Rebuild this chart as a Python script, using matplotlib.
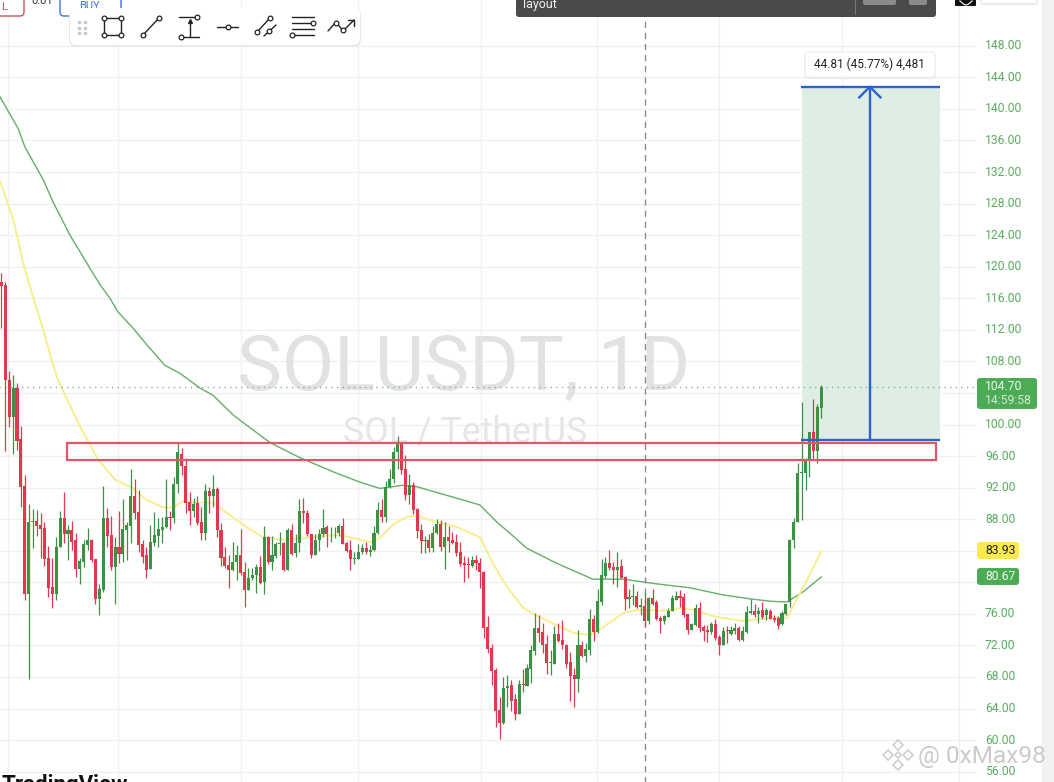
import matplotlib
matplotlib.use("Agg")
import matplotlib.pyplot as plt
from matplotlib.patches import FancyBboxPatch, Rectangle, Polygon

plt.rcParams["font.family"] = ["Roboto", "DejaVu Sans"]

opens = [118.0,117.7,105.7,100.9,104.6,98.1,92.2,78.5,87.6,87.8,
87.2,86.9,83.1,79.4,78.5,84.5,88.1,86.1,86.6,85.3,
81.7,82.6,84.7,85.4,83.0,77.9,79.0,88.1,86.0,81.9,
84.5,83.6,86.6,87.1,91.0,88.9,84.9,83.4,81.7,85.0,
85.9,86.6,87.0,88.3,88.1,92.4,96.2,94.8,90.2,89.0,
90.0,87.6,86.3,91.6,90.9,91.8,86.6,83.2,82.2,81.5,
82.6,83.4,81.3,79.0,80.5,80.9,82.0,80.0,85.7,82.6,
83.3,84.9,85.0,81.5,86.6,83.7,85.0,89.1,88.8,86.1,
83.4,85.4,86.1,87.0,86.2,86.2,86.2,87.1,85.0,84.1,
83.0,83.0,83.8,84.3,83.9,84.1,86.2,89.2,88.3,92.1,
93.1,96.5,97.5,94.3,91.1,92.3,89.3,86.6,85.2,85.4,
84.3,86.2,87.4,84.5,85.8,85.3,85.1,83.8,82.4,82.3,
82.1,82.8,82.5,81.3,74.3,71.7,68.9,63.8,62.2,66.6,
67.0,65.2,63.3,67.1,66.8,69.0,71.3,74.2,73.7,72.2,
69.8,69.7,73.4,72.7,72.1,69.9,68.2,67.8,72.0,70.6,
71.4,75.3,73.7,77.5,80.8,82.4,81.9,81.5,82.1,80.7,
77.9,78.1,78.3,76.9,77.0,75.1,78.0,77.5,75.5,75.1,
75.6,76.4,77.8,78.3,78.1,76.0,73.9,74.6,76.8,74.3,
73.9,73.7,74.7,73.1,72.1,73.9,73.4,73.8,74.2,72.7,
73.7,76.1,76.3,76.0,76.5,75.8,76.4,75.5,75.5,74.7,
76.0,77.5,85.3,87.7,93.8,93.9,95.6,99.1,96.7,102.1]

closes = [117.6,105.6,100.9,104.6,97.9,92.1,78.5,87.6,87.8,87.1,
86.8,83.0,79.3,78.5,84.5,88.1,86.1,86.6,85.1,81.7,
82.7,84.9,85.4,82.8,77.9,79.1,88.1,85.9,81.9,84.5,
83.6,86.7,87.2,91.0,88.8,84.7,83.2,81.6,85.1,86.0,
86.7,87.0,88.3,88.1,92.5,96.5,94.7,90.1,89.0,89.9,
87.5,86.3,91.6,90.9,91.8,86.6,83.1,82.1,81.5,82.6,
83.4,81.2,79.0,80.5,80.9,82.0,79.9,85.7,82.6,83.4,
84.9,85.0,81.5,86.6,83.6,85.0,89.1,88.8,86.1,83.4,
85.4,86.1,86.9,86.1,86.3,86.3,87.1,84.9,84.0,83.0,
83.1,83.9,84.3,83.9,84.1,86.3,89.2,88.3,92.1,93.1,
96.5,97.5,94.2,91.1,92.3,89.2,86.5,85.2,85.4,84.3,
86.3,87.4,84.5,85.8,85.2,85.0,83.7,82.3,82.2,82.2,
82.8,82.4,81.3,74.2,71.6,68.8,63.7,62.2,66.6,66.9,
64.9,63.3,67.1,67.0,69.1,71.4,74.2,73.6,72.1,69.8,
69.9,73.4,72.5,72.0,69.7,68.1,67.8,72.0,70.6,71.5,
75.3,73.7,77.6,80.9,82.4,81.8,81.5,82.0,80.6,77.9,
78.1,78.3,76.9,77.1,75.1,78.0,77.3,75.3,75.1,75.7,
76.4,78.0,78.3,78.0,75.8,73.9,74.7,76.8,74.2,73.8,
73.7,74.7,72.9,72.0,73.8,73.8,73.9,74.2,72.7,73.8,
76.2,76.4,75.9,76.4,75.6,76.5,75.4,75.2,74.4,76.1,
77.2,85.4,87.7,93.8,94.0,95.5,99.1,96.7,102.2,104.7]

highs = [119.2,118.0,106.8,106.3,105.2,99.8,93.6,89.9,89.3,89.2,
88.8,87.7,84.6,83.1,85.7,89.1,91.4,87.2,87.8,86.2,
83.1,85.4,86.9,85.5,83.0,79.8,92.2,89.4,88.4,85.7,
89.1,90.5,87.6,94.3,93.1,91.7,85.3,84.5,87.3,88.9,
88.1,88.3,93.1,89.0,93.4,97.7,97.0,95.7,91.5,90.7,
90.9,89.6,92.4,92.1,93.6,92.1,87.5,84.5,83.4,85.1,
84.7,86.7,82.6,81.8,81.8,82.3,83.3,87.1,85.9,85.9,
85.1,86.4,85.1,86.9,87.4,86.1,90.6,90.7,89.2,86.1,
86.1,86.8,89.3,87.2,87.0,87.0,87.4,88.2,85.1,85.4,
83.9,84.9,84.9,85.1,84.7,87.1,90.2,90.5,92.9,94.3,
97.1,98.5,97.6,96.1,93.7,92.7,89.4,87.4,85.9,86.1,
87.1,88.0,87.9,87.6,87.1,86.4,86.1,85.1,83.3,83.2,
83.3,83.4,83.1,81.4,75.7,72.2,69.2,65.4,68.0,68.3,
67.6,65.9,67.6,69.0,69.7,72.0,76.1,75.8,74.8,73.3,
71.4,74.4,74.8,75.2,72.2,71.2,69.1,74.0,72.5,72.3,
76.6,75.8,79.1,82.9,83.2,84.1,82.6,83.8,82.9,80.8,
79.1,79.8,78.9,78.0,78.7,78.2,79.1,77.7,75.7,75.8,
76.7,78.4,78.9,79.0,78.7,76.0,74.8,77.2,77.5,74.6,
74.6,75.0,75.4,73.3,74.3,74.4,74.4,74.9,74.4,74.4,
77.0,77.9,77.3,76.9,77.5,76.8,76.6,75.8,75.7,76.3,
77.3,85.5,88.1,95.1,102.9,95.7,99.1,103.2,102.6,105.0]

lows = [112.2,96.6,99.7,96.2,96.8,89.5,77.8,67.7,84.3,85.9,
83.1,82.1,78.2,76.8,77.7,84.5,85.0,82.8,84.1,80.7,
79.8,82.0,84.1,82.6,77.3,75.9,78.8,84.5,81.6,77.3,
82.4,82.6,82.8,85.0,88.0,83.9,82.5,80.5,81.7,84.6,
84.5,85.0,86.9,86.6,87.5,91.3,93.6,88.8,87.2,88.3,
87.3,85.3,85.3,88.8,89.6,85.7,82.1,81.8,79.3,81.4,
80.3,80.9,76.9,79.0,80.3,78.7,79.8,78.5,82.3,81.6,
83.1,83.4,81.4,81.5,83.5,83.2,83.8,87.5,85.9,83.1,
83.4,84.0,85.7,84.5,85.1,85.6,85.9,84.8,83.9,81.5,
82.3,83.0,83.6,83.6,83.3,84.0,86.1,87.7,87.7,92.0,
92.6,94.4,93.7,90.4,89.9,88.7,85.6,83.7,83.7,83.9,
83.8,86.1,84.0,81.7,83.9,84.8,83.3,82.1,80.1,80.5,
81.9,81.5,79.3,73.0,71.0,67.0,61.6,60.2,62.1,64.2,
63.7,62.5,63.3,66.1,66.8,67.2,70.8,72.4,71.1,68.4,
68.2,69.6,72.4,71.6,69.1,64.9,64.2,66.1,70.5,69.9,
70.8,72.5,73.6,77.1,80.5,81.5,79.8,79.4,80.5,76.5,
76.8,77.1,76.8,75.8,74.4,74.7,77.1,75.2,73.6,74.7,
75.6,76.3,77.7,76.9,75.6,73.5,73.9,74.5,73.7,72.6,
72.4,73.5,72.7,70.8,72.0,72.3,73.3,73.5,72.5,72.6,
73.6,76.0,75.6,74.9,75.4,75.2,75.3,75.0,74.1,74.6,
75.8,76.9,84.3,87.7,87.9,91.7,93.4,95.5,95.1,100.8]

fast_x = [-0.3,3.1,5.6,8.2,10.7,12.8,14.5,19.6,24.6,29.0,33.3,37.1,41.2,43.8,46.3,48.9,54.0,57.5,61.6,66.7,71.8,78.7,85.6,88.9,94.0,96.5,99.8,103.4,106.0,111.1,116.2,122.0,125.3,128.9,133.0,136.0,140.6,145.7,150.1,153.4,158.5,162.0,168.7,173.0,176.3,182.4,189.1,196.0,200.3,205.4,209]
fast_ma = [130.8,125.9,120.4,116.0,112.0,108.2,105.6,100.2,95.6,93.0,92.0,90.4,89.5,89.5,90.3,90.1,90.1,88.8,87.3,85.7,85.4,85.7,86.0,85.7,85.1,85.6,87.3,88.3,88.4,87.6,87.0,85.7,82.4,79.4,76.8,75.9,74.8,73.6,73.3,74.3,76.1,76.5,76.4,76.7,76.5,75.6,75.1,75.5,75.5,80.3,83.93]
slow_x = [-0.3,4.3,6.0,10.7,13.3,17.5,22.6,25.2,27.7,29.7,33.6,37.1,41.7,45.5,50.7,54.0,59.1,63.4,68.5,76.1,84.6,91.4,96.5,102.4,106.0,114.4,122.0,126.4,129.7,134.0,141.6,150.8,158.5,167.1,175.6,184.0,190.9,196.0,200.3,204.4,209]
slow_ma = [141.5,137.5,135.2,131.0,128.1,124.0,119.8,117.7,116.0,114.3,112.2,110.1,107.5,106.5,104.6,103.7,101.2,99.6,97.7,95.8,94.0,92.7,91.9,92.3,92.1,90.9,89.8,87.6,86.2,84.3,82.4,80.4,80.4,79.8,79.3,78.4,77.9,77.6,77.5,78.8,80.67]

price_ticks = [148,144,140,136,132,128,124,120,116,112,108,100,96,92,88,76,72,68,64,60,56]
grid_prices = list(range(56, 152, 4))
grid_candles = [1.8,29.7,61,91,122.2,151.8,183,214.2,244.1]

last_price = 104.70
box_prices = (95.5, 97.7)
box_candles = (16.75, 238.3)
entry = 98.0
target = 142.81
pos_candles = (204.1, 239.2)
arrow_candle = 221.4
cursor_candle = 164.1

UP = "#3d9142"
DOWN = "#e0384f"
BADGE = "#4cab55"
LABEL = "#58ad5f"
BLUE = "#2a62d4"

W, H = 1054, 782
fig = plt.figure(figsize=(W / 100, H / 100), dpi=100, facecolor="white")
ax = fig.add_axes([0, 0, 1, 1])
ax.set_xlim(-1.3 / 3.923, (W - 1.3) / 3.923)
ax.set_ylim(100 - (H - 424.5) / 7.89, 100 + 424.5 / 7.89)
ax.axis("off")

n = list(range(len(opens)))
grid_end = 248.5
ax.hlines(grid_prices, -1, grid_end, color="#f0f1f3", lw=1, zorder=1)
ax.vlines(grid_candles, 50, 160, color="#f0f1f3", lw=1, zorder=1)

ax.text(117.9, 107.0, "SOLUSDT, 1D", fontsize=54.5, color="#e2e2e2", ha="center", va="center", zorder=2)
ax.text(118.2, 99.0, "SOL / TetherUS", fontsize=25.7, color="#e6e6e6", ha="center", va="center", zorder=2)

# position tool
ax.add_patch(Rectangle((pos_candles[0], entry), pos_candles[1] - pos_candles[0], target - entry,
                       fc="#dfeee4", ec="none", zorder=2))

ax.plot(slow_x, slow_ma, color="#66ae6a", lw=1.0, zorder=3)
ax.plot(fast_x, fast_ma, color="#f7ee8e", lw=1.4, zorder=3)

colors = [UP if c >= o else DOWN for o, c in zip(opens, closes)]
ax.vlines(n, lows, highs, colors=colors, lw=0.9, zorder=4)
ax.bar(n, [abs(c - o) for o, c in zip(opens, closes)], bottom=[min(o, c) for o, c in zip(opens, closes)],
       width=0.78, color=colors, linewidth=0, zorder=5)

ax.hlines(last_price, -1, grid_end + 0.5, color="#6fae72", lw=0.9, linestyles=(0, (1, 3.5)), zorder=3)
ax.vlines(cursor_candle, 50, 151.6, color="#8c8c8c", lw=1, linestyles=(0, (4.5, 3.5)), zorder=3)

ax.add_patch(Rectangle((box_candles[0], box_prices[0]), box_candles[1] - box_candles[0], box_prices[1] - box_prices[0],
                       fc="none", ec="#e2566c", lw=1.6, zorder=6))

ax.hlines([entry, target], pos_candles[0] - 0.2, pos_candles[1], color=BLUE, lw=1.7, zorder=6)
ax.vlines(arrow_candle, entry, target, color=BLUE, lw=1.7, zorder=6)
ax.plot([arrow_candle - 2.7, arrow_candle, arrow_candle + 2.7], [target - 1.35, target, target - 1.35],
        color=BLUE, lw=1.7, zorder=6)

# screen furniture in pixel coordinates
ui = fig.add_axes([0, 0, 1, 1], facecolor="none")
ui.set_xlim(0, W)
ui.set_ylim(H, 0)
ui.axis("off")


def box(x0, y0, x1, y1, fc, ec="none", r=3, lw=1, z=10):
    ui.add_patch(FancyBboxPatch((x0 + r, y0 + r), x1 - x0 - 2 * r, y1 - y0 - 2 * r,
                                boxstyle=f"round,pad={r},rounding_size={r}", fc=fc, ec=ec, lw=lw, zorder=z))


def seg(xs, ys, lw=1.0, c="#222222", z=12):
    ui.plot(xs, ys, color=c, lw=lw, solid_capstyle="round", zorder=z)


def dots(xs, ys, z=13):
    ui.plot(xs, ys, ls="none", marker="o", ms=3.4, mfc="white", mec="#222222", mew=0.9, zorder=z)


# axis strip and labels
ui.add_patch(Rectangle((1042, 0), 12, H, fc="#f1f1f1", ec="none", zorder=8))
for p in price_ticks:
    ui.text(985, 424.5 - (p - 100) * 7.89, f"{p:.2f}", fontsize=8.7, color=LABEL, ha="left", va="center", zorder=9)

box(977, 378, 1037, 409, BADGE)
ui.text(985, 386.5, "104.70", fontsize=8.7, color="#eef7ef", va="center", zorder=11)
ui.text(985, 400.5, "14:59:58", fontsize=8.7, color="#d5ead6", va="center", zorder=11)
box(977, 542, 1019, 559, "#fbe94f")
ui.text(985, 550.5, "83.93", fontsize=8.7, color="#222222", va="center", zorder=11)
box(977, 568, 1019, 585, BADGE)
ui.text(985, 576.5, "80.67", fontsize=8.7, color="#eef7ef", va="center", zorder=11)

# position label
box(804, 52, 936, 79, "#e9e9e9", r=5, z=9)
box(805, 52, 935, 77, "white", ec="#f2f2f2", r=4)
ui.text(869.5, 64.5, "44.81 (45.77%) 4,481", fontsize=8.5, color="#222222", ha="center", va="center", zorder=11)

# top bars
ui.add_patch(FancyBboxPatch((519, -10), 414, 24, boxstyle="round,pad=3", fc="#4a4a4a", ec="none", zorder=10))
ui.text(523, 4.5, "layout", fontsize=9, color="#f0f0f0", va="center", zorder=11)
seg([855, 855], [0, 14], lw=0.8, c="#777777")
box(863, -6, 896, 5, "#8a8a8a", r=2, z=11)
box(909, -6, 927, 5, "#8a8a8a", r=2, z=11)
box(955, -6, 976, 6, "#111111", r=1)
ui.plot([960, 964, 966, 968, 972], [1, 4.5, 5, 4.5, 1], color="#e8e8e8", lw=0.9, zorder=11)
box(981, -6, 1037, 4, "white", ec="#e5e5e5", r=2)

box(-10, -10, 24, 16, "white", ec="#c9535f", r=4)
ui.text(1, 7, "L", fontsize=8, color="#c9535f", ha="left", va="center", zorder=11)
ui.text(31, 1, "0.01", fontsize=8, color="#333333", va="center", zorder=11)
box(60, -10, 121, 16, "white", ec="#3f73d8", r=4)
ui.text(90, 6, "BUY", fontsize=8, color="#3f73d8", ha="center", va="center", zorder=11)

# drawing toolbar
box(69, 8, 361, 47, "#e9e9e9", r=8, z=10)
box(70, 8, 360, 45, "white", r=7, z=11)
for x in (79, 85):
    ui.plot([x, x, x], [22, 28, 33], ls="none", marker="s", ms=1.6, color="#c8c8c8", zorder=12)
seg([104, 121, 121, 104, 104], [18, 18, 35, 35, 18])
dots([104, 121, 104, 121], [18, 18, 35, 35])
seg([143, 159], [35, 18])
dots([143, 159], [35, 18])
seg([179, 197], [17, 17])
seg([182, 199], [37, 37])
seg([189.5, 189.5], [36, 21])
ui.plot([189.5], [21], marker="^", ms=2.8, color="#222222", zorder=12)
dots([197, 181], [17, 37])
seg([217, 238], [27, 27])
dots([227.5], [27])
seg([257, 270], [32, 18])
seg([264, 276], [36, 25])
dots([257, 270, 269], [32, 18, 31])
seg([292, 314], [17, 17])
seg([292, 314], [23, 23])
seg([292, 314], [29, 29])
seg([292, 314], [35, 35])
dots([313, 292], [23, 35])
seg([328, 336, 343, 354], [31, 22, 31, 20])
seg([348, 354, 354], [20, 20, 26])
dots([336, 343], [23, 30])

# corner marks
ui.text(2, 774, "TradingView", fontsize=16, fontweight="bold", color="#111111", va="top", zorder=11)
ui.text(918, 757, "@ 0xMax98", fontsize=17.6, color="#c6c6c6", alpha=0.9, va="center", zorder=11)
for cx, cy, s in [(898, 745, 5), (888, 755, 5), (908, 755, 5), (898, 765, 5), (898, 755, 3)]:
    ui.add_patch(Polygon([(cx - s, cy), (cx, cy - s), (cx + s, cy), (cx, cy + s)], closed=True,
                         fc="none", ec="#cfcfcf", lw=1.2, zorder=11))

fig.savefig("out.png", dpi=100)
